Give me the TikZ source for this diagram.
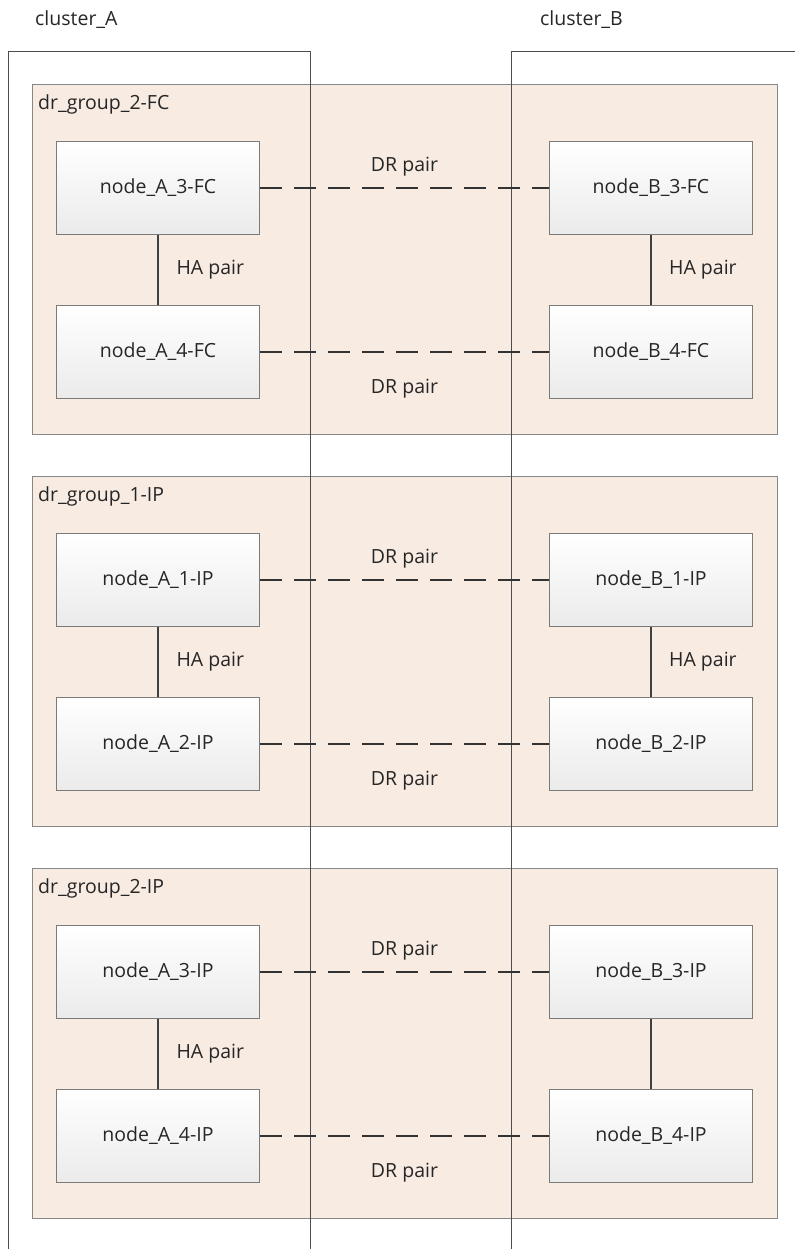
\documentclass[tikz,border=0pt]{standalone}
\usepackage{fontspec}
\setmainfont{Open Sans}
\usetikzlibrary{positioning}

\definecolor{grpfill}{HTML}{F7EBE2}
\definecolor{edge}{HTML}{7A7A7A}

\tikzset{
    lbl/.style={font=\fontsize{19.5}{22}\selectfont, text=black!85, inner sep=2pt},
    grp/.style={draw=edge!90, line width=1.3pt, fill=grpfill, minimum width=745pt, minimum height=350pt, inner sep=0pt},
    ctrl/.style={draw=edge, line width=1pt, top color=white, bottom color=black!8, minimum width=203pt, minimum height=93pt, inner sep=0pt, font=\fontsize{19.5}{22}\selectfont, text=black!85},
    drlink/.style={draw=black!80, line width=1.8pt, dash pattern=on 22pt off 12pt},
    halink/.style={draw=black!75, line width=1.2pt},
    clus/.style={draw=black!70, line width=0.9pt},
}

\begin{document}
\begin{tikzpicture}[x=1pt, y=-1pt]
    \useasboundingbox (0,0) rectangle (795,1249);

    % dr groups
    \foreach \t/\gn in {84/2-FC, 476/1-IP, 868/2-IP} {
        \node[grp, anchor=north west] (g\gn) at (32,\t) {};
        \node[lbl, anchor=west] at ([xshift=4pt, yshift=-20pt]g\gn.north west) {dr\_group\_\gn};
    }

    % clusters (drawn over the groups)
    \node[lbl, anchor=west] (clA) at (33,20) {cluster\_A};
    \node[lbl, anchor=west] (clB) at (538,20) {cluster\_B};
    \coordinate (clAbl) at (8,1249);
    \coordinate (clAtl) at (8,51);
    \coordinate (clAtr) at (310,51);
    \coordinate (clAbr) at (310,1249);
    \coordinate (clBbl) at (511,1249);
    \coordinate (clBtl) at (511,51);
    \coordinate (clBtr) at (795,51);
    \draw[clus] (clAbl) -- (clAtl) -- (clAtr) -- (clAbr);
    \draw[clus] (clBbl) -- (clBtl) -- (clBtr);

    % controllers and links
    \foreach \t/\i/\j/\s in {84/3/4/FC, 476/1/2/IP, 868/3/4/IP} {
        \node[ctrl, anchor=north west] (A\i\s) at (56,\t+57) {node\_A\_\i-\s};
        \node[ctrl, anchor=north west] (A\j\s) at (56,\t+221) {node\_A\_\j-\s};
        \node[ctrl, anchor=north west] (B\i\s) at (549,\t+57) {node\_B\_\i-\s};
        \node[ctrl, anchor=north west] (B\j\s) at (549,\t+221) {node\_B\_\j-\s};

        \draw[drlink] (A\i\s) -- (B\i\s) node[midway, above=9pt, lbl] {DR pair};
        \draw[drlink] (A\j\s) -- (B\j\s) node[midway, below=24pt, lbl] {DR pair};
        \draw[halink] (A\i\s) -- (A\j\s) node[midway, right=16pt, lbl] {HA pair};
        \draw[halink] (B\i\s) -- (B\j\s);
        \ifnum\t<800
            \path (B\i\s) -- (B\j\s) node[midway, right=16pt, lbl] {HA pair};
        \fi
    }
\end{tikzpicture}
\end{document}
